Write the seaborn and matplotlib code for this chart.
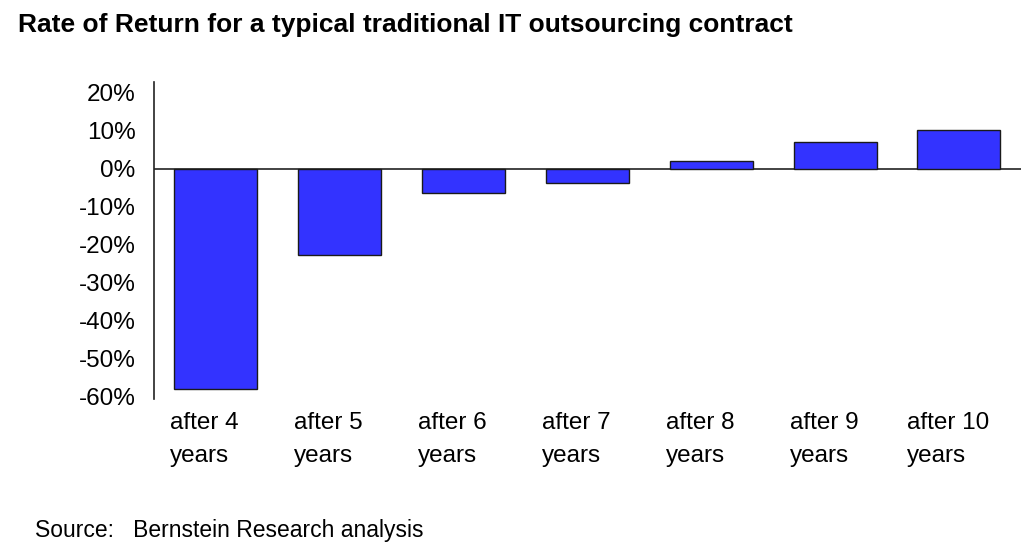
import matplotlib
matplotlib.use('Agg')
import matplotlib.pyplot as plt
import matplotlib.transforms as mtransforms
import seaborn as sns
import pandas as pd

# values (percent)
periods = ['after 4\nyears', 'after 5\nyears', 'after 6\nyears', 'after 7\nyears',
           'after 8\nyears', 'after 9\nyears', 'after 10\nyears']
returns = [-58.0, -22.6, -6.4, -3.7, 2.2, 7.2, 10.3]
y_ticks = [20, 10, 0, -10, -20, -30, -40, -50, -60]

title = 'Rate of Return for a typical traditional IT outsourcing contract'
source = 'Source:   Bernstein Research analysis'

sns.set_style('white')
plt.rcParams['font.family'] = ['Liberation Sans', 'DejaVu Sans']
plt.rcParams['text.color'] = 'black'
plt.rcParams['xtick.color'] = 'black'
plt.rcParams['ytick.color'] = 'black'

df = pd.DataFrame({'period': periods, 'ret': returns})

fig = plt.figure(figsize=(10.24, 5.44), dpi=100)
ax = fig.add_axes([0.150, 0.2665, 0.847, 0.5835])

sns.barplot(data=df, x='period', y='ret', color='#3333FF', saturation=1,
            edgecolor='#1a1a1a', linewidth=1.0, width=0.67, ax=ax)

ax.axhline(0, color='#222222', linewidth=1.2, zorder=0)
ax.set_xlim(-0.5, len(periods) - 0.5)
ax.set_ylim(-60.6, 23)
ax.set_yticks(y_ticks)
ax.set_yticklabels([f'{t}%' for t in y_ticks], fontsize=17.5)
ax.tick_params(axis='y', length=0, pad=13)
ax.tick_params(axis='x', length=0, pad=9, labelsize=17.5)
for lbl in ax.get_xticklabels():
    lbl.set_multialignment('left')
    lbl.set_linespacing(1.65)
    lbl.set_transform(lbl.get_transform() +
                      mtransforms.ScaledTranslation(-11 / 100, 0, fig.dpi_scale_trans))
ax.set_xlabel('')
ax.set_ylabel('')

for side in ['top', 'right', 'bottom']:
    ax.spines[side].set_visible(False)
ax.spines['left'].set_color('#222222')
ax.spines['left'].set_linewidth(1.2)

fig.text(18 / 1024, 1 - 32 / 544, title, fontsize=19, fontweight='bold',
         ha='left', va='baseline')
fig.text(35 / 1024, 1 - 537 / 544, source, fontsize=16.5, ha='left', va='baseline')

fig.savefig('out.png', dpi=100, facecolor='white')
